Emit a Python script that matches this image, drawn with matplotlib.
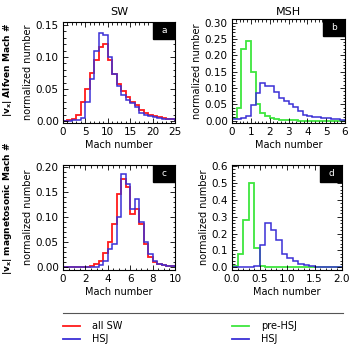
import matplotlib
matplotlib.use('Agg')
import matplotlib.pyplot as plt
import numpy as np
from matplotlib.ticker import MultipleLocator

plt.rcParams['font.family'] = ['DejaVu Sans']
plt.rcParams['font.size'] = 7

RED = '#ff1a1a'
BLUE = '#3a2fd6'
GREEN = '#3ee63e'

# panel a: |vx| Alfven Mach #, solar wind, bin width 1
edges_a = np.arange(0, 26, 1.0)
sw_all_a = [0.0, 0.001, 0.003, 0.01, 0.03, 0.05, 0.075, 0.095, 0.115, 0.12,
            0.095, 0.073, 0.058, 0.047, 0.037, 0.03, 0.025, 0.018, 0.013, 0.01,
            0.008, 0.006, 0.005, 0.004, 0.004]
sw_hsj_a = [0.0, 0.0, 0.001, 0.002, 0.005, 0.03, 0.065, 0.11, 0.138, 0.135,
            0.1, 0.073, 0.055, 0.04, 0.033, 0.028, 0.022, 0.013, 0.01, 0.008,
            0.006, 0.005, 0.004, 0.003, 0.003]

# panel b: |vx| Alfven Mach #, magnetosheath, bin width 0.25
edges_b = np.arange(0, 6.01, 0.25)
msh_pre_b = [0.008, 0.04, 0.22, 0.245, 0.15, 0.05, 0.025, 0.013, 0.008, 0.005,
             0.003, 0.002, 0.001, 0.001, 0.0, 0.0, 0.0, 0.0, 0.0, 0.0,
             0.0, 0.0, 0.0, 0.0]
msh_hsj_b = [0.004, 0.005, 0.007, 0.015, 0.048, 0.085, 0.115, 0.105, 0.105, 0.088,
             0.07, 0.06, 0.05, 0.042, 0.03, 0.018, 0.014, 0.012, 0.01, 0.008,
             0.007, 0.005, 0.004, 0.003]

# panel c: |vx| magnetosonic Mach #, solar wind, bin width 0.4
edges_c = np.arange(0, 10.01, 0.4)
sw_all_c = [0.0, 0.0, 0.0, 0.0, 0.0, 0.0, 0.002, 0.005, 0.012, 0.027,
            0.05, 0.085, 0.145, 0.175, 0.16, 0.105, 0.115, 0.085, 0.045, 0.02,
            0.01, 0.006, 0.004, 0.002, 0.001]
sw_hsj_c = [0.0, 0.0, 0.0, 0.0, 0.0, 0.0, 0.0, 0.0, 0.004, 0.012,
            0.035, 0.045, 0.1, 0.185, 0.165, 0.115, 0.135, 0.09, 0.05, 0.025,
            0.012, 0.006, 0.004, 0.002, 0.001]

# panel d: |vx| magnetosonic Mach #, magnetosheath, bin width 0.1
edges_d = np.arange(0, 2.01, 0.1)
msh_pre_d = [0.01, 0.08, 0.28, 0.5, 0.115, 0.01, 0.003, 0.002, 0.001, 0.0,
             0.0, 0.0, 0.0, 0.0, 0.0, 0.0, 0.0, 0.0, 0.0, 0.0]
msh_hsj_d = [0.002, 0.002, 0.002, 0.002, 0.01, 0.13, 0.26, 0.22, 0.16, 0.08,
             0.055, 0.035, 0.02, 0.013, 0.008, 0.003, 0.002, 0.002, 0.001, 0.001]

W, H = 352, 344
fig = plt.figure(figsize=(W / 100, H / 100), dpi=100)


def px_axes(left, right, top, bottom):
    return fig.add_axes([left / W, 1 - bottom / H, (right - left) / W, (bottom - top) / H])


def style(ax, xlim, xmaj, xmin, ylim, ymaj, ymin, yfmt, letter):
    ax.set_xlim(*xlim)
    ax.set_ylim(*ylim)
    ax.xaxis.set_major_locator(MultipleLocator(xmaj))
    ax.xaxis.set_minor_locator(MultipleLocator(xmin))
    ax.yaxis.set_major_locator(MultipleLocator(ymaj))
    ax.yaxis.set_minor_locator(MultipleLocator(ymin))
    ax.yaxis.set_major_formatter(yfmt)
    ax.tick_params(which='both', direction='in', top=True, right=True, width=0.6)
    ax.tick_params(which='major', length=3.5, labelsize=7.5, pad=3)
    ax.tick_params(which='minor', length=1.8)
    for s in ax.spines.values():
        s.set_linewidth(0.8)
        s.set_zorder(5)
    ax.set_xlabel('Mach number', fontsize=7, labelpad=2)
    ax.set_ylabel('normalized number', fontsize=7, labelpad=2)
    # black letter box in the top right corner (about 22 x 17 px)
    bb = ax.get_position()
    bw = 22 / (bb.width * W)
    bh = 17 / (bb.height * H)
    ax.add_patch(plt.Rectangle((1 - bw, 1 - bh), bw, bh, transform=ax.transAxes,
                               fc='black', ec='black', zorder=4))
    ax.text(1 - bw / 2, 1 - bh / 2, letter, transform=ax.transAxes, ha='center',
            va='center', color='white', fontsize=6.5, zorder=6)


ax_a = px_axes(63, 175, 22, 123)
ax_a.stairs(sw_all_a, edges_a, color=RED, lw=1.3)
ax_a.stairs(sw_hsj_a, edges_a, color=BLUE, lw=1.1)
style(ax_a, (0, 25), 5, 1, (-0.003, 0.1547), 0.05, 0.01, '{x:.2f}', 'a')
ax_a.set_title('SW', fontsize=8, pad=5)

ax_b = px_axes(232, 345, 19, 123)
ax_b.stairs(msh_pre_b, edges_b, color=GREEN, lw=1.3)
ax_b.stairs(msh_hsj_b, edges_b, color=BLUE, lw=1.1)
style(ax_b, (0, 6), 1, 0.2, (-0.007, 0.311), 0.05, 0.01, '{x:.2f}', 'b')
ax_b.set_title('MSH', fontsize=8, pad=3)

ax_c = px_axes(63, 175, 165, 270)
ax_c.stairs(sw_all_c, edges_c, color=RED, lw=1.3)
ax_c.stairs(sw_hsj_c, edges_c, color=BLUE, lw=1.1)
style(ax_c, (0, 10), 2, 0.5, (-0.006, 0.2035), 0.05, 0.01, '{x:.2f}', 'c')

ax_d = px_axes(232, 342, 165, 270)
ax_d.stairs(msh_pre_d, edges_d, color=GREEN, lw=1.3)
ax_d.stairs(msh_hsj_d, edges_d, color=BLUE, lw=1.1)
style(ax_d, (0, 2), 0.5, 0.1, (-0.016, 0.606), 0.1, 0.02, '{x:.1f}', 'd')

# row labels
fig.text(8 / W, 1 - 70 / H, r'|v$_\mathbf{x}$| Alfven Mach #', rotation=90,
         ha='center', va='center', fontsize=6.5, fontweight='bold')
fig.text(8 / W, 1 - 208 / H, r'|v$_\mathbf{x}$| magnetosonic Mach #', rotation=90,
         ha='center', va='center', fontsize=6.5, fontweight='bold')

# legend
fig.add_artist(plt.Line2D([63 / W, 343 / W], [1 - 312.5 / H, 1 - 312.5 / H],
                          color='#555555', lw=0.8))
entries = [(63, 326, RED, 'all SW'), (63, 339, BLUE, 'HSJ'),
           (232, 326, GREEN, 'pre-HSJ'), (232, 339, BLUE, 'HSJ')]
for x0, y0, c, lab in entries:
    fig.add_artist(plt.Line2D([x0 / W, (x0 + 17) / W], [1 - y0 / H, 1 - y0 / H],
                              color=c, lw=1.3))
    fig.text((x0 + 29) / W, 1 - y0 / H, lab, ha='left', va='center', fontsize=7)

fig.savefig('out.png', dpi=100)
